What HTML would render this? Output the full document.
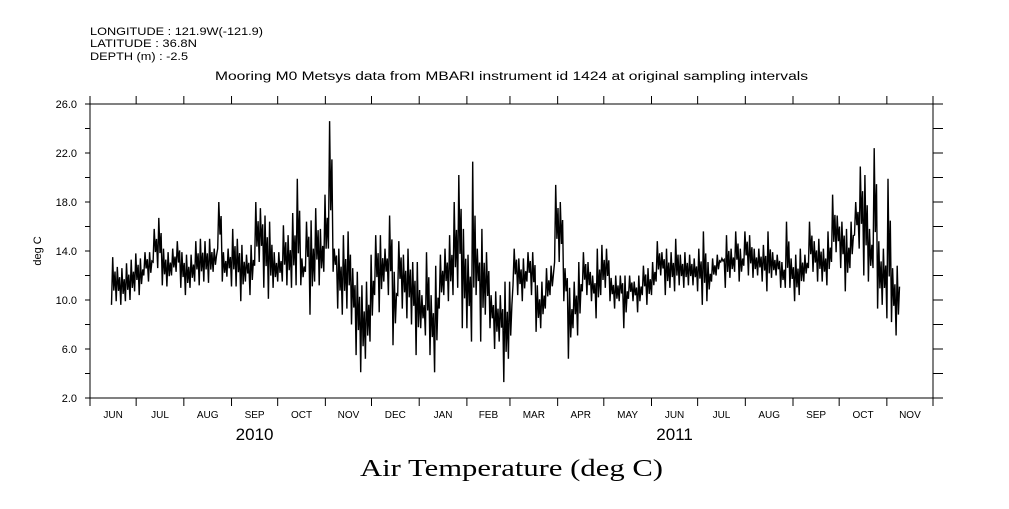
<!DOCTYPE html>
<html><head><meta charset="utf-8"><style>
body{margin:0;background:#fff;}
svg text{font-family:"Liberation Sans",sans-serif;fill:#000;}
</style></head><body>
<svg id="chart" width="1009" height="504" xmlns="http://www.w3.org/2000/svg">
<text x="90" y="35" font-size="11" textLength="173" lengthAdjust="spacingAndGlyphs">LONGITUDE : 121.9W(-121.9)</text>
<text x="90" y="47" font-size="11" textLength="107" lengthAdjust="spacingAndGlyphs">LATITUDE : 36.8N</text>
<text x="90" y="60" font-size="11" textLength="98" lengthAdjust="spacingAndGlyphs">DEPTH (m) : -2.5</text>
<text x="215" y="80" font-size="11.5" textLength="593" lengthAdjust="spacingAndGlyphs">Mooring M0 Metsys data from MBARI instrument id 1424 at original sampling intervals</text>
<text x="0" y="0" font-size="11" text-anchor="middle" transform="translate(41,251) rotate(-90)">deg C</text>
<text x="360" y="476" font-size="24" textLength="303" lengthAdjust="spacingAndGlyphs" style="font-family:'Liberation Serif',serif">Air Temperature (deg C)</text>
<g id="axes"></g>
<path id="series" fill="none" stroke="#000" stroke-width="1.4"/>
</svg>
<script>
const monthLabels=["JUN","JUL","AUG","SEP","OCT","NOV","DEC","JAN","FEB","MAR","APR","MAY","JUN","JUL","AUG","SEP","OCT","NOV"];
const monthDays=[30,31,31,30,31,30,31,31,28,31,30,31,30,31,31,30,31,30];
const yearLabels=["2010","2011"];
const yTicks=[2,6,10,14,18,22,26];
const days=[14,17,20,23,26,29,32,35,38,41,44,47,50,53,56,59,62,65,68,71,74,77,80,83,86,89,92,95,98,101,104,107,110,113,116,119,122,125,128,131,134,137,140,143,146,149,152,155,158,161,164,167,170,173,176,179,182,185,188,191,194,197,200,203,206,209,212,215,218,221,224,227,230,233,236,239,242,245,248,251,254,257,260,263,266,269,272,275,278,281,284,287,290,293,296,299,302,305,308,311,314,317,320,323,326,329,332,335,338,341,344,347,350,353,356,359,362,365,368,371,374,377,380,383,386,389,392,395,398,401,404,407,410,413,416,419,422,425,428,431,434,437,440,443,446,449,452,455,458,461,464,467,470,473,476,479,482,485,488,491,494,497,500,503,506,509,512,515,518,521,524];
const highs=[13.5,12.7,12.6,13,13.3,13.8,13.4,13.9,13.9,15.8,16.7,14.2,13.9,14.2,14.8,13.9,13.7,13.7,14.8,15,14.8,15,14.2,18,13.9,14.2,15.8,15,14.5,13.7,14.5,18,17.5,16.9,16.4,13.9,13.9,16.1,15.3,17.1,19.9,13.4,16.4,16.5,17.5,15.8,18.6,24.6,14.2,14.2,15.3,15.6,12.6,12.3,11.2,11.5,13.7,15.3,15.3,14.2,16.9,12.3,14.8,13.7,14.2,13.1,13.1,10.4,13.9,10.4,12.8,13.7,14.2,15.3,18,20.2,15.8,13.7,21.3,14.2,15.8,13.9,10.4,10.7,10.4,11.5,11.5,14.2,13.4,13.4,13.9,13.9,11.2,11.5,12.6,12.8,19.4,18,12.6,11,11.5,13.1,13.9,13.1,12,14.2,14.5,14.2,11.8,12,12,12,12,11.5,12,12.8,12.6,13.1,14.8,13.9,14.2,13.9,15,13.7,13.9,13.7,13.4,14.2,15.6,13.1,13.4,13.7,13.4,15.3,14.2,15.6,14.2,15.6,15.3,14.2,14.2,14.5,15.6,13.9,13.7,13.1,16.4,13.4,13.7,14.2,13.7,16.4,14.8,15,14.2,15.6,18.6,16.9,16.4,15.8,16.4,18,20.9,20.2,15.8,22.4,14.8,14.2,19.9,12.6,12.8];
const lows=[9.6,9.9,9.6,9.9,10,10.7,10.4,12,11.5,13.1,12.6,11.2,11.1,12,12.3,11,10.4,11,11.5,11.2,11.5,11.4,12.3,14.2,11.5,11.9,11.1,11.1,9.9,11.5,10.4,12.8,13.1,11,10.1,11,11.5,11.5,11.2,11,11.2,11.2,12.3,8.8,11.5,11.2,12.3,14.2,12.3,9.3,8.8,9.3,8,5.5,4.1,5.2,6.6,10.4,9,11.5,10.4,6.3,10.4,9.3,8.5,8,5.5,7.7,7.1,5.5,4.1,9.3,10.4,9.9,10.4,11,7.7,7.7,6.6,10.4,6.6,8.8,7.7,6,6.6,3.3,5.2,11.2,10.4,9.9,11.5,10.4,7.4,7.7,9.3,10.4,13.1,13.1,9.9,5.2,7.7,7.1,10.7,10.4,9.9,8.5,10.4,11,9.9,9.3,9.9,7.7,10.1,9.9,9,10.4,9.6,10.4,11.5,12,10.4,11,10.7,11.2,11,11.2,11.2,10.7,9.6,9.9,11.5,12,13.1,11,11.8,12.3,11.5,12.8,12,11.8,12,11.5,10.7,11.8,12,11,11,11,9.9,10.4,11.5,12.6,12.3,11.5,11.5,11.2,13.1,13.9,12.6,10.7,12.6,15.3,14.2,12,11.5,12.6,9.3,9.6,8.5,8.2,7.1];

const L=90,R=933,T=104,B=398,totalDays=548;
const xs=d=>L+d*(R-L)/totalDays;
const ys=v=>B-(v-2)*(B-T)/24;
const NS="http://www.w3.org/2000/svg";
const axes=document.getElementById('axes');
function mk(tag,attrs){const e=document.createElementNS(NS,tag);for(const k in attrs)e.setAttribute(k,attrs[k]);return e;}
const frame=mk('rect',{x:L,y:T,width:R-L,height:B-T,fill:'none',stroke:'#000','stroke-width':1});


axes.appendChild(frame);
for(let v=2;v<=26;v+=2){
  const y=ys(v);
  const t1=mk('line',{x1:L-5,x2:L,y1:y,y2:y,stroke:'#000'});
  
  
  axes.appendChild(t1);
  const t2=mk('line',{x1:R,x2:R+10,y1:y,y2:y,stroke:'#000'});
  
  
  axes.appendChild(t2);
}
yTicks.forEach(v=>{
  const t=mk('text',{x:L-13,y:ys(v)+4,'font-size':11,'text-anchor':'end'});
  t.textContent=v.toFixed(1);
  
  
  axes.appendChild(t);
});
let cum=0;
for(let i=0;i<=monthDays.length;i++){
  const x=xs(cum);
  const a=mk('line',{x1:x,x2:x,y1:B,y2:B+8,stroke:'#000'});
  
  
  axes.appendChild(a);
  const b=mk('line',{x1:x,x2:x,y1:T-8,y2:T,stroke:'#000'});
  
  
  axes.appendChild(b);
  if(i<monthDays.length){
    const t=mk('text',{x:xs(cum+monthDays[i]/2),y:418,'font-size':10,'text-anchor':'middle'});
    t.textContent=monthLabels[i];
    
    
    axes.appendChild(t);
    if(i===3||i===12){
      const yl=mk('text',{x:xs(cum+monthDays[i]/2),y:440,'font-size':17,'text-anchor':'middle'});
      yl.textContent=yearLabels[i===3?0:1];
      
      
      axes.appendChild(yl);
    }
    cum+=monthDays[i];
  }
}
let d="";
days.forEach((day,i)=>{
  const pts=[[day,lows[i]],[day+0.75,highs[i]],[day+1.5,lows[i]+(highs[i]-lows[i])*0.3],[day+2.25,highs[i]-(highs[i]-lows[i])*0.3]];
  pts.forEach((p,j)=>{d+=(i===0&&j===0?"M":"L")+xs(p[0]).toFixed(1)+","+ys(p[1]).toFixed(1);});
});
document.getElementById('series').setAttribute('d',d);
</script>
</body></html>
